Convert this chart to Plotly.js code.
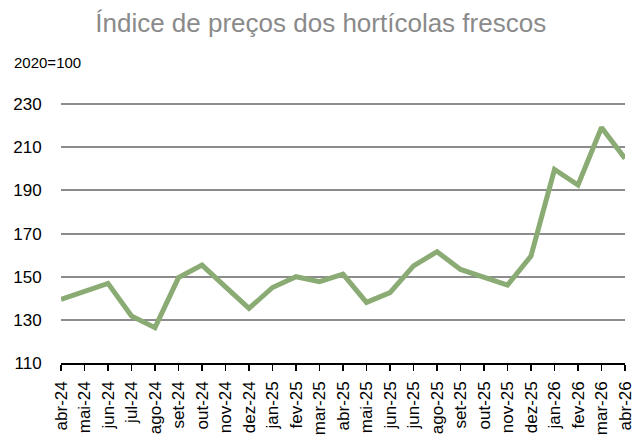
<!DOCTYPE html>
<html>
<head>
<meta charset="utf-8">
<script src="https://cdn.plot.ly/plotly-3.0.1.min.js"></script>
<style>html,body{margin:0;padding:0;background:#fff}#chart{width:644px;height:437px}</style>
</head>
<body>
<div id="chart"></div>
<script>
const months = ["abr-24","mai-24","jun-24","jul-24","ago-24","set-24","out-24","nov-24","dez-24","jan-25","fev-25","mar-25","abr-25","mai-25","jun-25","jun-25","ago-25","set-25","out-25","nov-25","dez-25","jan-26","fev-26","mar-26","abr-26"];
const indexValues = [139.5,143.3,146.9,131.8,126.4,149.6,155.4,145.3,135.3,145.0,150.0,147.7,151.2,138.1,142.6,155.0,161.6,153.4,149.5,146.1,159.6,199.7,192.5,219.2,204.8];
const yTicks = [110,130,150,170,190,210,230];

const xPos = months.map((_, i) => i);

const trace = {
  x: xPos,
  y: indexValues,
  type: 'scatter',
  mode: 'lines',
  line: {color: '#8aab73', width: 5},
  hoverinfo: 'skip'
};

const layout = {
  width: 644, height: 437,
  margin: {l: 61, r: 19, t: 102, b: 74},
  paper_bgcolor: '#fff', plot_bgcolor: '#fff',
  showlegend: false,
  font: {family: 'Liberation Sans, Arial, sans-serif', color: '#000', size: 17},
  title: {text: 'Índice de preços dos hortícolas frescos', font: {size: 26, color: '#8a8a8a'}, x: 0.498, xanchor: 'center', y: 0.947, yanchor: 'middle'},
  xaxis: {
    range: [0, 24], tickmode: 'array', tickvals: xPos, ticktext: months,
    tickangle: -90, ticks: 'outside', ticklen: 6, tickwidth: 1.5, tickcolor: '#000',
    ticklabelstandoff: 4,
    showline: true, linecolor: '#000', linewidth: 1.5, showgrid: false, zeroline: false,
    tickfont: {size: 17, color: '#000'}, fixedrange: true
  },
  yaxis: {
    range: [110, 231], tickmode: 'array', tickvals: yTicks,
    ticks: 'outside', ticklen: 15, tickcolor: 'rgba(0,0,0,0)',
    showgrid: true, gridcolor: '#8c8c8c', gridwidth: 2, showline: false, zeroline: false,
    tickfont: {size: 17, color: '#000'}, fixedrange: true
  },
  annotations: [{text: '2020=100', xref: 'paper', yref: 'paper', x: -0.086, y: 1.15, xanchor: 'left', yanchor: 'middle', showarrow: false, font: {size: 15, color: '#000'}}]
};

Plotly.newPlot('chart', [trace], layout, {displayModeBar: false, staticPlot: true});
</script>
</body>
</html>
